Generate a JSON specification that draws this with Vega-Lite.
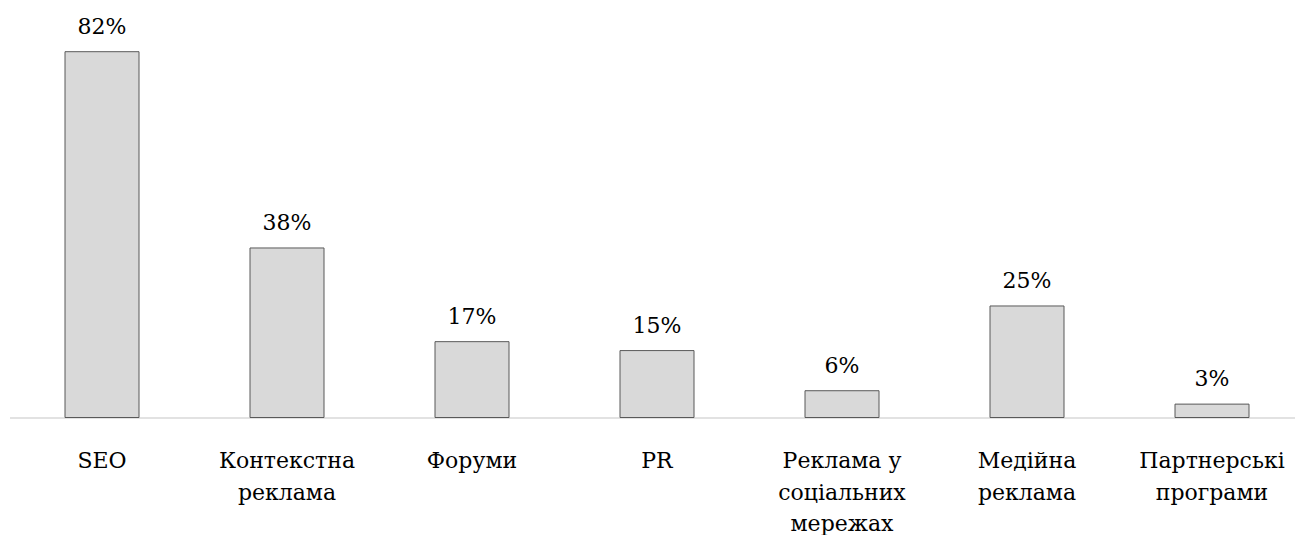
{
  "$schema": "https://vega.github.io/schema/vega-lite/v6.json",
  "autosize": "none",
  "width": 1295,
  "height": 401.5,
  "padding": {"left": 9.5, "top": 16, "right": 0, "bottom": 117.5},
  "background": "white",
  "config": {"view": {"stroke": null}, "font": "DejaVu Serif", "text": {"font": "DejaVu Serif"}, "axis": {"labelFont": "DejaVu Serif"}},
  "data": {"values": [
    {"cat": "SEO", "v": 82, "label": "82%"},
    {"cat": "Контекстна\nреклама", "v": 38, "label": "38%"},
    {"cat": "Форуми", "v": 17, "label": "17%"},
    {"cat": "PR", "v": 15, "label": "15%"},
    {"cat": "Реклама у\nсоціальних\nмережах", "v": 6, "label": "6%"},
    {"cat": "Медійна\nреклама", "v": 25, "label": "25%"},
    {"cat": "Партнерські\nпрограми", "v": 3, "label": "3%"}
  ]},
  "encoding": {
    "x": {"field": "cat", "type": "nominal", "sort": null,
      "scale": {"paddingInner": 0.6, "paddingOuter": 0.3},
      "axis": {"title": null, "labelAngle": 0, "ticks": false, "labelPadding": 33,
        "labelFont": "DejaVu Serif", "labelFontSize": 22, "labelColor": "#000000",
        "labelLineHeight": 31.5, "labelLimit": 0,
        "labelExpr": "split(datum.label, '\\n')",
        "domainColor": "#d9d9d9", "domainWidth": 1.5}},
    "y": {"field": "v", "type": "quantitative", "scale": {"domain": [0, 90]}, "axis": null}
  },
  "layer": [
    {"mark": {"type": "bar", "fill": "#d9d9d9", "stroke": "#595959", "strokeWidth": 1}},
    {"mark": {"type": "text", "baseline": "alphabetic", "dy": -18, "font": "DejaVu Serif", "fontSize": 22, "color": "#000000"},
      "encoding": {"text": {"field": "label", "type": "nominal"}}}
  ]
}
